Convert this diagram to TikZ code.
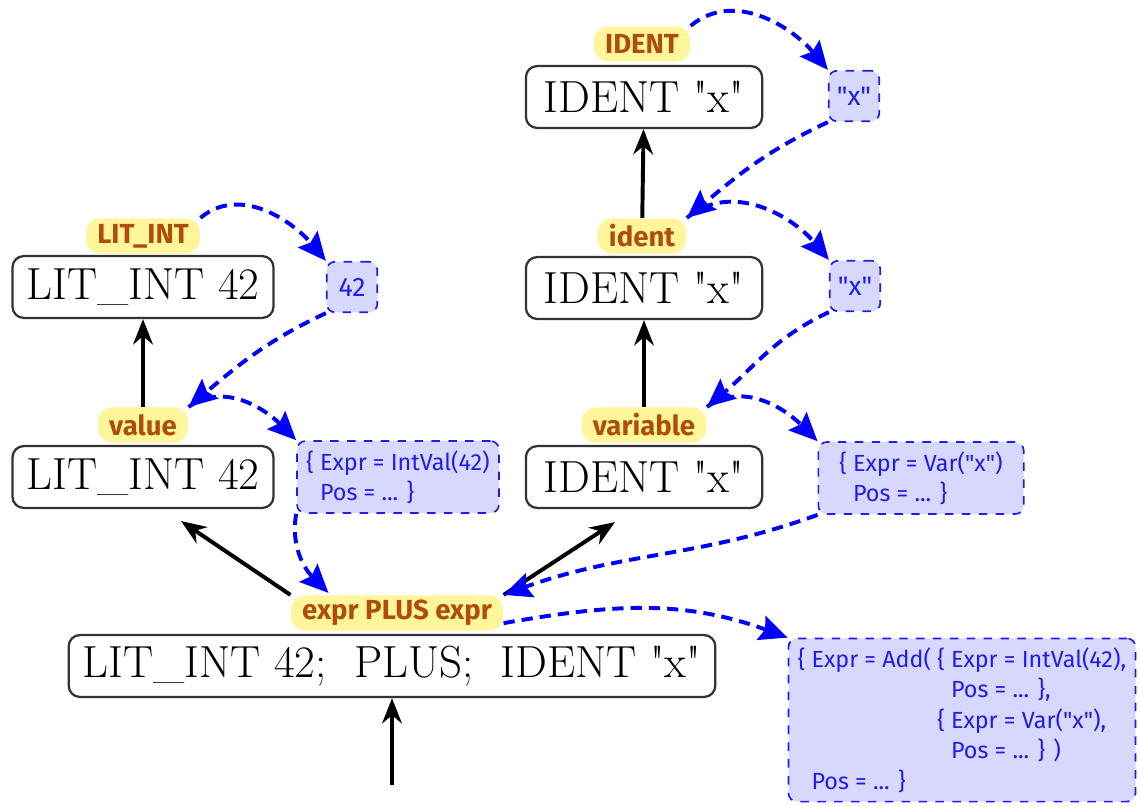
\documentclass[tikz,border=0pt]{standalone}
\usepackage{fontspec}
\setsansfont{Fira Sans}
\usetikzlibrary{calc,arrows.meta,positioning}
\definecolor{labtext}{RGB}{176,78,8}
\definecolor{labfill}{RGB}{255,245,155}
\definecolor{semfill}{RGB}{216,216,255}
\definecolor{semblue}{RGB}{30,30,235}
\newcommand\qx{\textquotedbl x\textquotedbl}

\begin{document}
\begin{tikzpicture}[x=0.0125cm,y=0.0125cm,>=Stealth,line join=round,
    tok/.style={draw=black!80,line width=0.8pt,rounded corners=4pt,fill=white,
      font=\fontsize{16}{18}\selectfont,inner xsep=5pt,minimum height=22pt},
    rule/.style={fill=labfill,text=labtext,rounded corners=5pt,
      font=\sffamily\bfseries\fontsize{9.8}{11}\selectfont,inner xsep=4pt,inner ysep=1pt,minimum height=12.5pt},
    sem/.style={draw=semblue,dashed,line width=0.6pt,fill=semfill,text=semblue,rounded corners=3pt,
      font=\sffamily\fontsize{8.3}{10.8}\selectfont,align=left},
    val/.style={sem,minimum size=18pt,inner sep=1pt,font=\sffamily\fontsize{9.5}{11}\selectfont},
    tree/.style={line width=1.4pt,-{Stealth[length=9pt,width=7pt]}},
    act/.style={blue,line width=1.4pt,dash pattern=on 4pt off 2.5pt,-{Stealth[length=10pt,width=9pt,inset=1.5pt]}}]
    \useasboundingbox (0,0) rectangle (1140,-805);
    % token boxes
    \node[tok] (L1) at (143,-287) {LIT\_INT 42};
    \node[tok] (L2) at (143,-477) {LIT\_INT 42};
    \node[tok,minimum width=84pt] (A1) at (644,-97) {IDENT \qx};
    \node[tok,minimum width=84pt] (A2) at (644,-288) {IDENT \qx};
    \node[tok,minimum width=84pt] (A3) at (644,-477) {IDENT \qx};
    \node[tok] (B) at (392,-666) {LIT\_INT 42;\ \ PLUS;\ \ IDENT \qx};
    \coordinate (in) at (392,-785);
    % semantic values
    \node[val] (s42) at (352,-287) {42};
    \node[val] (sx1) at (854,-96) {\qx};
    \node[val] (sx2) at (855,-286) {\qx};
    \node[sem] (sInt) at (398,-477) {\{ Expr = IntVal(42)\\\phantom{\{ }Pos = ... \}};
    \node[sem,minimum width=73pt] (sVar) at (921,-478) {\{ Expr = Var(\qx)\\\phantom{\{ }Pos = ... \}};
    \node[sem] (sAdd) at (962,-720) {\{ Expr = Add( \{ Expr = IntVal(42),\\
      \phantom{\{ Expr = Add( \{ }Pos = ... \},\\
      \phantom{\{ Expr = Add( }\{ Expr = Var(\qx),\\
      \phantom{\{ Expr = Add( \{ }Pos = ... \} )\\
      \phantom{\{ }Pos = ... \}};
    % rule labels
    \node[rule] (rIDENT) at (642,-44) {IDENT};
    \node[rule] (rident) at (642,-236) {ident};
    \node[rule] (rvar) at (644,-425) {variable};
    \node[rule] (rLIT) at (143,-236) {LIT\_INT};
    \node[rule] (rval) at (143,-425) {value};
    \node[rule] (rexpr) at (397,-613) {expr PLUS expr};
    % tree edges
    \draw[tree] (in) -- (B);
    \draw[tree] (rval) -- (L1);
    \draw[tree] (rident) -- (A1);
    \draw[tree] (rvar) -- (A2);
    \draw[tree] (rexpr.north west) -- ($(L2.south)+(38,-12)$);
    \draw[tree] (rexpr.north east) -- ($(A3.south)+(-29,-13)$);
    % actions
    \draw[act] (rIDENT.north east) to[out=40,in=130] (sx1.north west);
    \draw[act] (sx1.south west) to[out=205,in=40] (rident.north east);
    \draw[act] (rident.north east) to[out=40,in=130] (sx2.north west);
    \draw[act] (sx2.south west) to[out=205,in=40] (rvar.north east);
    \draw[act] (rvar.north east) to[out=35,in=135] (sVar.north west);
    \draw[act] (sVar.south west) to[out=200,in=20] (rexpr.north east);
    \draw[act] ($(rexpr.south east)+(0,8)$) to[out=10,in=160] (sAdd.north west);
    \draw[act] (rLIT.north east) to[out=40,in=130] (s42.north west);
    \draw[act] (s42.south west) to[out=205,in=40] (rval.north east);
    \draw[act] (rval.north east) to[out=35,in=135] (sInt.north west);
    \draw[act] (sInt.south west) to[out=260,in=135] ($(rexpr.north west)+(38,2)$);
\end{tikzpicture}
\end{document}
